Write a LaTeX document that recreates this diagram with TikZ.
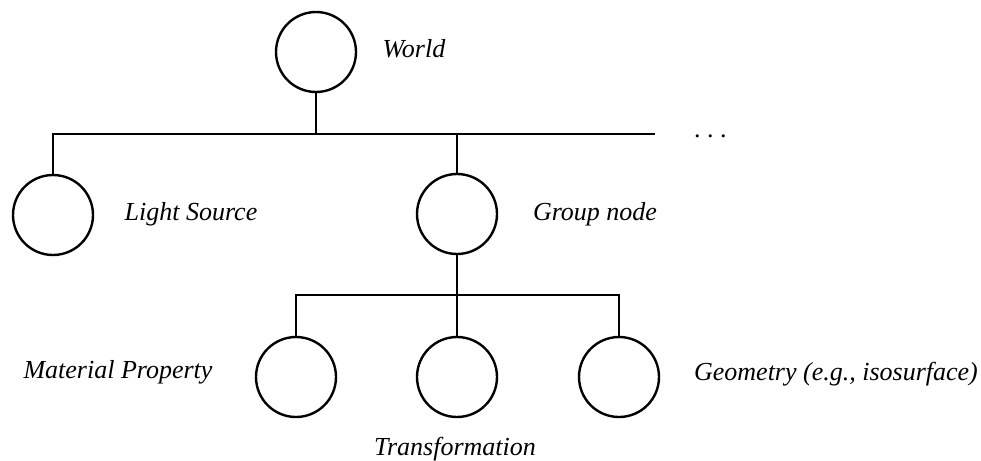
\documentclass[tikz,border=0pt]{standalone}
\usepackage{fontspec}
\setmainfont{Liberation Serif}
\begin{document}
\begin{tikzpicture}[x=1pt,y=-1pt,
  tnode/.style={circle,draw,line width=2.4pt,minimum size=80pt,inner sep=0pt},
  lbl/.style={font=\fontsize{26}{30}\selectfont\itshape,inner sep=0pt,anchor=base},
  edge/.style={line width=2.4pt}]
\useasboundingbox (0,0) rectangle (981,460);
% circles
\node[tnode] (world) at (316,52) {};
\node[tnode] (light) at (53,215) {};
\node[tnode] (group) at (457,214) {};
\node[tnode] (mat) at (296,377) {};
\node[tnode] (trans) at (457,377) {};
\node[tnode] (geom) at (619,377) {};
% bus coordinates
\coordinate (bus1) at (316,134);
\coordinate (bus1r) at (655,134);
\coordinate (bus2) at (457,295);
% labels
\node[lbl] (lworld) at (414,58) {World};
\node[lbl] (llight) at (191,220) {Light Source};
\node[lbl] (lgroup) at (595,220) {Group node};
\node[lbl] (lmat) at (118,378) {Material Property};
\node[lbl] (ltrans) at (455,455) {Transformation};
\node[lbl] (lgeom) at (836,380) {Geometry (e.g., isosurface)};
\node[lbl,anchor=base west,font=\fontsize{26}{30}\selectfont] (dots) at (694,137) {.\ .\ .};
% connectors
\draw[edge] (world.south) -- (bus1);
\draw[edge] (light.north) |- (bus1r);
\draw[edge] (group.north) -- (group.north |- bus1);
\draw[edge] (group.south) -- (bus2);
\draw[edge] (mat.north) |- (geom.north |- bus2) -- (geom.north);
\draw[edge] (trans.north) -- (bus2);
\end{tikzpicture}
\end{document}
